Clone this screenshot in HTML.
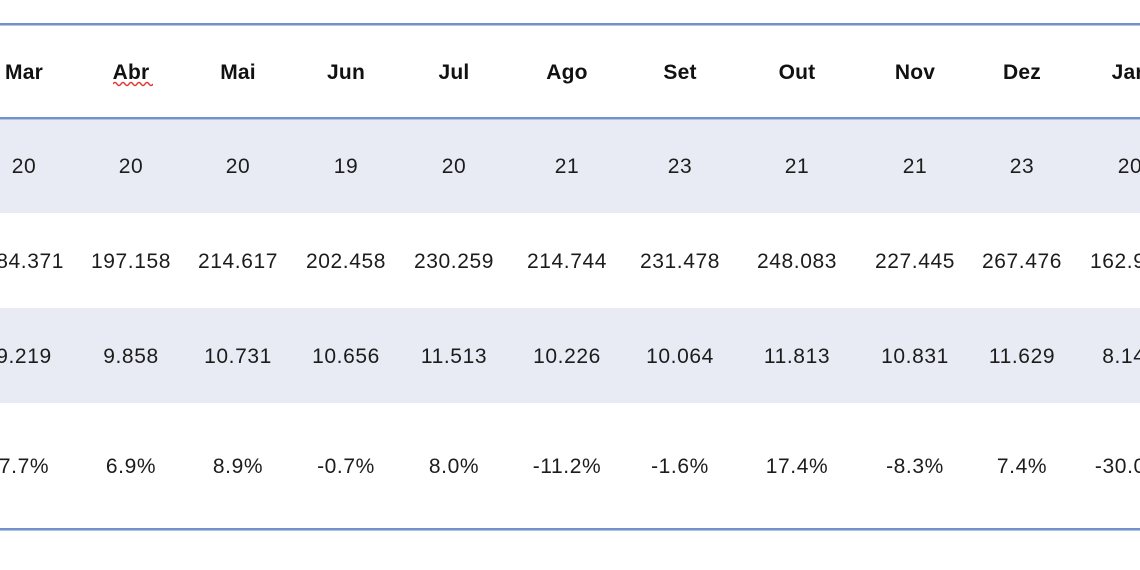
<!DOCTYPE html>
<html>
<head>
<meta charset="utf-8">
<style>
html,body{margin:0;padding:0;background:#fff;}
#c{position:relative;width:1140px;height:570px;overflow:hidden;background:#fff;font-family:"Liberation Sans",sans-serif;color:#1c1c1c;}
.band{position:absolute;left:0;width:1140px;background:#e8ebf3;}
.ln{position:absolute;left:0;width:1140px;height:2px;background:#7392cb;}
.ln2{position:absolute;left:0;width:1140px;height:1px;background:#b4c4e2;}
.t{position:absolute;width:140px;text-align:center;font-size:21px;line-height:21px;letter-spacing:0.6px;white-space:nowrap;}
.h{position:absolute;width:140px;text-align:center;font-size:21px;line-height:21px;font-weight:bold;letter-spacing:0.2px;white-space:nowrap;color:#111;}
</style>
</head>
<body>
<div id="c">
<div class="band" style="top:119px;height:94px;"></div>
<div class="band" style="top:308px;height:95px;"></div>
<div class="ln" style="top:23px;"></div>
<div class="ln2" style="top:25px;"></div>
<div class="ln" style="top:117px;"></div>
<div class="ln2" style="top:119px;"></div>
<div class="ln" style="top:528px;"></div>
<div class="ln2" style="top:530px;"></div>

<!-- header -->
<div class="h" style="left:-46px;top:62px;">Mar</div>
<div class="h" style="left:61px;top:62px;">Abr</div>
<div class="h" style="left:168px;top:62px;">Mai</div>
<div class="h" style="left:276px;top:62px;">Jun</div>
<div class="h" style="left:384px;top:62px;">Jul</div>
<div class="h" style="left:497px;top:62px;">Ago</div>
<div class="h" style="left:610px;top:62px;">Set</div>
<div class="h" style="left:727px;top:62px;">Out</div>
<div class="h" style="left:845px;top:62px;">Nov</div>
<div class="h" style="left:952px;top:62px;">Dez</div>
<div class="h" style="left:1060px;top:62px;">Jan</div>
<svg style="position:absolute;left:113px;top:80px;" width="40" height="7" viewBox="0 0 40 7">
<path d="M0 4 Q2 1 4 4 T8 4 T12 4 T16 4 T20 4 T24 4 T28 4 T32 4 T36 4 T40 4" fill="none" stroke="#e53935" stroke-width="1.5"/>
</svg>

<!-- row 1 -->
<div class="t" style="left:-46px;top:156px;">20</div>
<div class="t" style="left:61px;top:156px;">20</div>
<div class="t" style="left:168px;top:156px;">20</div>
<div class="t" style="left:276px;top:156px;">19</div>
<div class="t" style="left:384px;top:156px;">20</div>
<div class="t" style="left:497px;top:156px;">21</div>
<div class="t" style="left:610px;top:156px;">23</div>
<div class="t" style="left:727px;top:156px;">21</div>
<div class="t" style="left:845px;top:156px;">21</div>
<div class="t" style="left:952px;top:156px;">23</div>
<div class="t" style="left:1060px;top:156px;">20</div>

<!-- row 2 -->
<div class="t" style="left:-46px;top:251px;">184.371</div>
<div class="t" style="left:61px;top:251px;">197.158</div>
<div class="t" style="left:168px;top:251px;">214.617</div>
<div class="t" style="left:276px;top:251px;">202.458</div>
<div class="t" style="left:384px;top:251px;">230.259</div>
<div class="t" style="left:497px;top:251px;">214.744</div>
<div class="t" style="left:610px;top:251px;">231.478</div>
<div class="t" style="left:727px;top:251px;">248.083</div>
<div class="t" style="left:845px;top:251px;">227.445</div>
<div class="t" style="left:952px;top:251px;">267.476</div>
<div class="t" style="left:1060px;top:251px;">162.943</div>

<!-- row 3 -->
<div class="t" style="left:-46px;top:346px;">9.219</div>
<div class="t" style="left:61px;top:346px;">9.858</div>
<div class="t" style="left:168px;top:346px;">10.731</div>
<div class="t" style="left:276px;top:346px;">10.656</div>
<div class="t" style="left:384px;top:346px;">11.513</div>
<div class="t" style="left:497px;top:346px;">10.226</div>
<div class="t" style="left:610px;top:346px;">10.064</div>
<div class="t" style="left:727px;top:346px;">11.813</div>
<div class="t" style="left:845px;top:346px;">10.831</div>
<div class="t" style="left:952px;top:346px;">11.629</div>
<div class="t" style="left:1060px;top:346px;">8.147</div>

<!-- row 4 -->
<div class="t" style="left:-46px;top:456px;">7.7%</div>
<div class="t" style="left:61px;top:456px;">6.9%</div>
<div class="t" style="left:168px;top:456px;">8.9%</div>
<div class="t" style="left:276px;top:456px;">-0.7%</div>
<div class="t" style="left:384px;top:456px;">8.0%</div>
<div class="t" style="left:497px;top:456px;">-11.2%</div>
<div class="t" style="left:610px;top:456px;">-1.6%</div>
<div class="t" style="left:727px;top:456px;">17.4%</div>
<div class="t" style="left:845px;top:456px;">-8.3%</div>
<div class="t" style="left:952px;top:456px;">7.4%</div>
<div class="t" style="left:1060px;top:456px;">-30.0%</div>
</div>
</body>
</html>
